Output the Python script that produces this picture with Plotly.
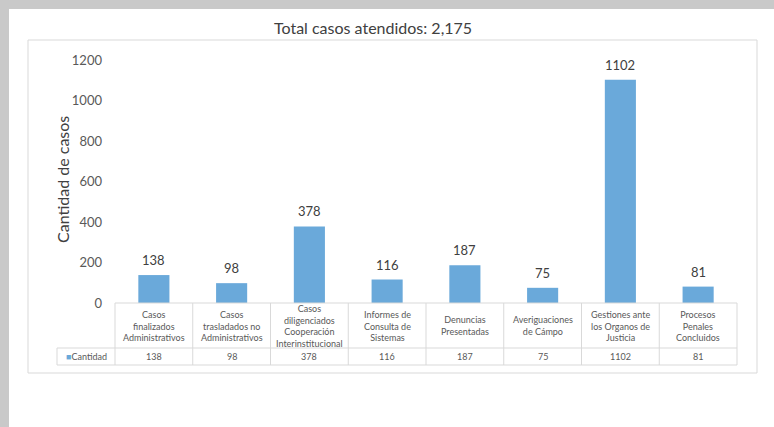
import plotly.graph_objects as go

# Data
categorias = [
    "Casos<br>finalizados<br>Administrativos",
    "Casos<br>trasladados no<br>Administrativos",
    "Casos<br>diligenciados<br>Cooperación<br>Interinstitucional",
    "Informes de<br>Consulta de<br>Sistemas",
    "Denuncias<br>Presentadas",
    "Averiguaciones<br>de Cámpo",
    "Gestiones ante<br>los Organos de<br>Justicia",
    "Procesos<br>Penales<br>Concluidos",
]
cantidad = [138, 98, 378, 116, 187, 75, 1102, 81]
serie = "Cantidad"
titulo = "Total casos atendidos: 2,175"
titulo_y = "Cantidad de casos"
ticks_y = [0, 200, 400, 600, 800, 1000, 1200]

W, H = 774, 427
L, R, T, B = 115, 737, 60, 303   # plot area in pixels

FONT = "Lato"
BAR = "#6aa9da"
GRID = "#d9d9d9"
TXT = "#404040"
TXT2 = "#595959"


def px(X):
    return (X - L) / (R - L)


def py(Y):
    return (B - Y) / (B - T)


ids = list(range(len(categorias)))

fig = go.Figure(
    go.Bar(
        x=ids,
        y=cantidad,
        marker=dict(color=BAR, line=dict(width=0)),
        width=0.4,
        hoverinfo="x+y",
    )
)

shapes = []
annotations = []

# page frame: grey edges and chart border
shapes.append(dict(type="rect", xref="paper", yref="paper", x0=px(0), x1=px(W),
                   y0=py(9), y1=py(0), fillcolor="#c9c9c9", line=dict(width=0), layer="below"))
shapes.append(dict(type="rect", xref="paper", yref="paper", x0=px(0), x1=px(9),
                   y0=py(H), y1=py(0), fillcolor="#c9c9c9", line=dict(width=0), layer="below"))
shapes.append(dict(type="rect", xref="paper", yref="paper", x0=px(28), x1=px(757),
                   y0=py(373), y1=py(40), fillcolor="rgba(0,0,0,0)",
                   line=dict(color=GRID, width=1), layer="below"))

# value labels above the bars
for i, v in enumerate(cantidad):
    annotations.append(dict(x=i, y=v, xref="x", yref="y", text=str(v), showarrow=False,
                            xanchor="center", yanchor="bottom", yshift=5,
                            font=dict(family=FONT, size=13, color=TXT)))

# data table under the axis
n = len(categorias)
row1 = py(348)
row2 = py(365)
leg_left = px(57)
for i in range(n + 1):
    shapes.append(dict(type="line", xref="x domain", yref="paper", x0=i / n, x1=i / n,
                       y0=row2, y1=0, line=dict(color=GRID, width=1)))
shapes.append(dict(type="line", xref="x domain", yref="paper", x0=0, x1=1,
                   y0=0, y1=0, line=dict(color=GRID, width=1)))
shapes.append(dict(type="line", xref="paper", yref="paper", x0=leg_left, x1=1,
                   y0=row1, y1=row1, line=dict(color=GRID, width=1)))
shapes.append(dict(type="line", xref="paper", yref="paper", x0=leg_left, x1=1,
                   y0=row2, y1=row2, line=dict(color=GRID, width=1)))
shapes.append(dict(type="line", xref="paper", yref="paper", x0=leg_left, x1=leg_left,
                   y0=row2, y1=row1, line=dict(color=GRID, width=1)))

for i, (c, v) in enumerate(zip(categorias, cantidad)):
    annotations.append(dict(x=i, y=(0 + row1) / 2, xref="x", yref="paper", text=c,
                            showarrow=False, xanchor="center", yanchor="middle",
                            font=dict(family=FONT, size=9, color=TXT2)))
    annotations.append(dict(x=i, y=(row1 + row2) / 2, xref="x", yref="paper", text=str(v),
                            showarrow=False, xanchor="center", yanchor="middle",
                            font=dict(family=FONT, size=9, color=TXT2)))

# legend key cell
annotations.append(dict(x=(leg_left + 0) / 2, y=(row1 + row2) / 2, xref="paper", yref="paper",
                        text=f"<span style='color:{BAR}'>■</span>{serie}", showarrow=False,
                        xanchor="center", yanchor="middle",
                        font=dict(family=FONT, size=9, color=TXT2)))

# axis title
annotations.append(dict(x=px(62), y=py(180), xref="paper", yref="paper", text=titulo_y,
                        textangle=-90, showarrow=False, xanchor="center", yanchor="middle",
                        font=dict(family=FONT, size=16, color=TXT)))

# chart title
annotations.append(dict(x=px(373), y=py(27), xref="paper", yref="paper", text=titulo,
                        showarrow=False, xanchor="center", yanchor="middle",
                        font=dict(family=FONT, size=16, color=TXT)))

fig.update_layout(
    width=W,
    height=H,
    margin=dict(l=L, r=W - R, t=T, b=H - B),
    paper_bgcolor="white",
    plot_bgcolor="white",
    showlegend=False,
    shapes=shapes,
    annotations=annotations,
    xaxis=dict(range=[-0.5, n - 0.5], showticklabels=False, showgrid=False,
               zeroline=False, showline=False, ticks="", fixedrange=True),
    yaxis=dict(range=[0, 1200], tickvals=ticks_y, showgrid=False, zeroline=False,
               showline=False, ticks="", ticklabelstandoff=12,
               tickfont=dict(family=FONT, size=13, color=TXT2), fixedrange=True),
    font=dict(family=FONT),
)

fig.write_html("out.html")
